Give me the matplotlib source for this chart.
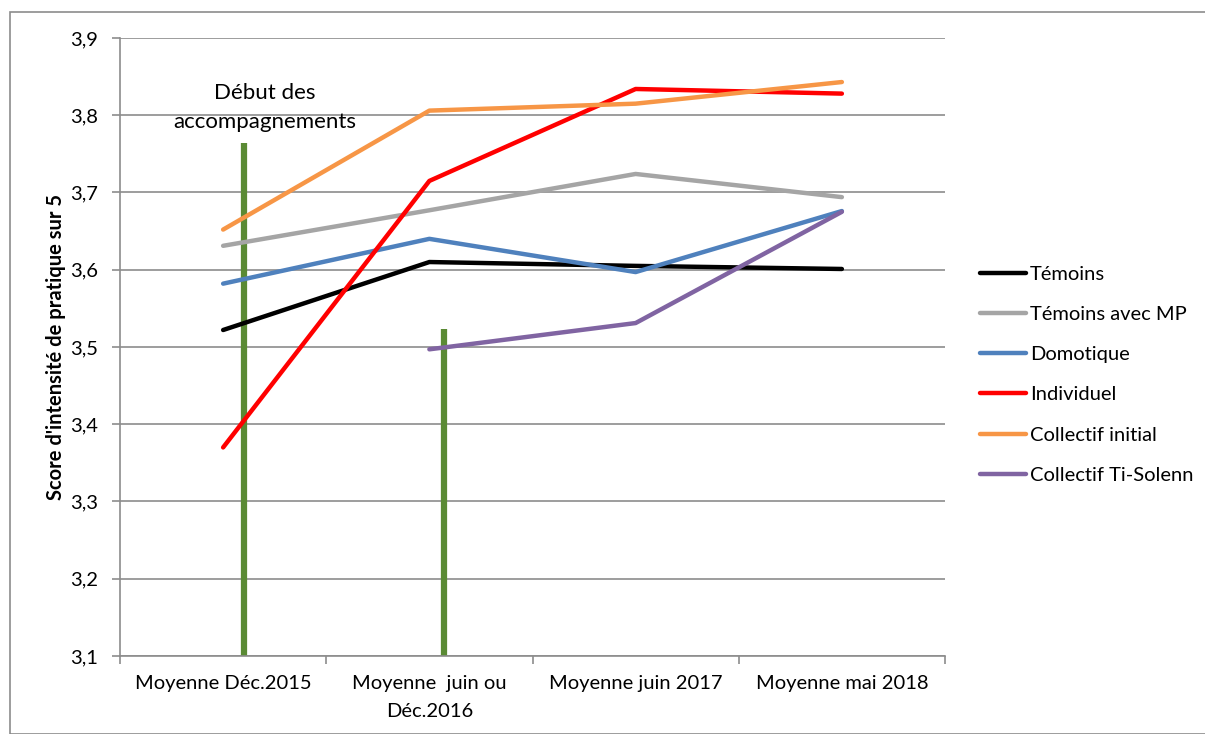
import numpy as np
import matplotlib.pyplot as plt
from matplotlib.patches import Rectangle

plt.rcParams['font.family'] = ['Lato', 'DejaVu Sans']

categories = ["Moyenne Déc.2015", "Moyenne  juin ou\nDéc.2016", "Moyenne juin 2017", "Moyenne mai 2018"]
temoins = [3.522, 3.610, 3.605, 3.601]
temoins_mp = [3.631, 3.677, 3.724, 3.694]
domotique = [3.582, 3.640, 3.597, 3.676]
individuel = [3.370, 3.715, 3.834, 3.828]
collectif_init = [3.652, 3.806, 3.815, 3.843]
ti_solenn = [np.nan, 3.497, 3.531, 3.675]

# start of the support programmes (green bars)
debut_x = [0.10, 1.07]
debut_top = [3.764, 3.523]

series = [
    ("Témoins", temoins, "#000000"),
    ("Témoins avec MP", temoins_mp, "#a5a5a5"),
    ("Domotique", domotique, "#4f81bd"),
    ("Individuel", individuel, "#ff0000"),
    ("Collectif initial", collectif_init, "#f79646"),
    ("Collectif Ti-Solenn", ti_solenn, "#8064a2"),
]

fs = 14.5

fig = plt.figure(figsize=(12.05, 7.34), dpi=100)
fig.patches.append(Rectangle((10/1205, 0), 1.2, 1 - 12/734, transform=fig.transFigure,
                             fill=False, edgecolor="#8c8c8c", lw=1.2))
ax = fig.add_axes([120/1205, 78/734, 825/1205, 618/734])

x = np.arange(len(categories))
for name, vals, col in series:
    ax.plot(x, vals, color=col, lw=3.2, label=name, solid_capstyle="round")

ax.vlines(debut_x, 3.1, debut_top, color="#5a8a34", lw=4.5, zorder=1)
ax.text(0.2, 3.81, "Début des\naccompagnements", ha="center", va="center",
        fontsize=16, linespacing=1.6)

ax.set_xlim(-0.5, 3.5)
ax.set_ylim(3.1, 3.9)
yt = np.arange(3.1, 3.91, 0.1)
ax.set_yticks(yt)
ax.set_yticklabels([f"{v:.1f}".replace(".", ",") for v in yt], fontsize=fs)
ax.yaxis.grid(True, color="#8c8c8c", lw=1.2)
ax.set_axisbelow(True)

ax.set_xticks(x)
ax.set_xticklabels(categories, fontsize=fs, linespacing=1.75)
ax.tick_params(axis="x", length=0, pad=14)
ax.set_xticks(np.arange(-0.5, 3.6, 1), minor=True)
ax.tick_params(axis="x", which="minor", length=6, color="#8c8c8c", width=1.2)
ax.tick_params(axis="y", length=6, color="#8c8c8c", width=1.2, pad=10)

for s in ["top", "right"]:
    ax.spines[s].set_visible(False)
for s in ["left", "bottom"]:
    ax.spines[s].set_color("#8c8c8c")
    ax.spines[s].set_linewidth(1.2)

ax.set_ylabel("Score d'intensité de pratique sur 5", fontsize=14.5, fontweight="bold", labelpad=3)

ax.legend(loc="center left", bbox_to_anchor=(1.02, 0.455), frameon=False, fontsize=fs,
          handlelength=2.3, labelspacing=1.15, handletextpad=0.2)

fig.savefig("out.png", dpi=100)
